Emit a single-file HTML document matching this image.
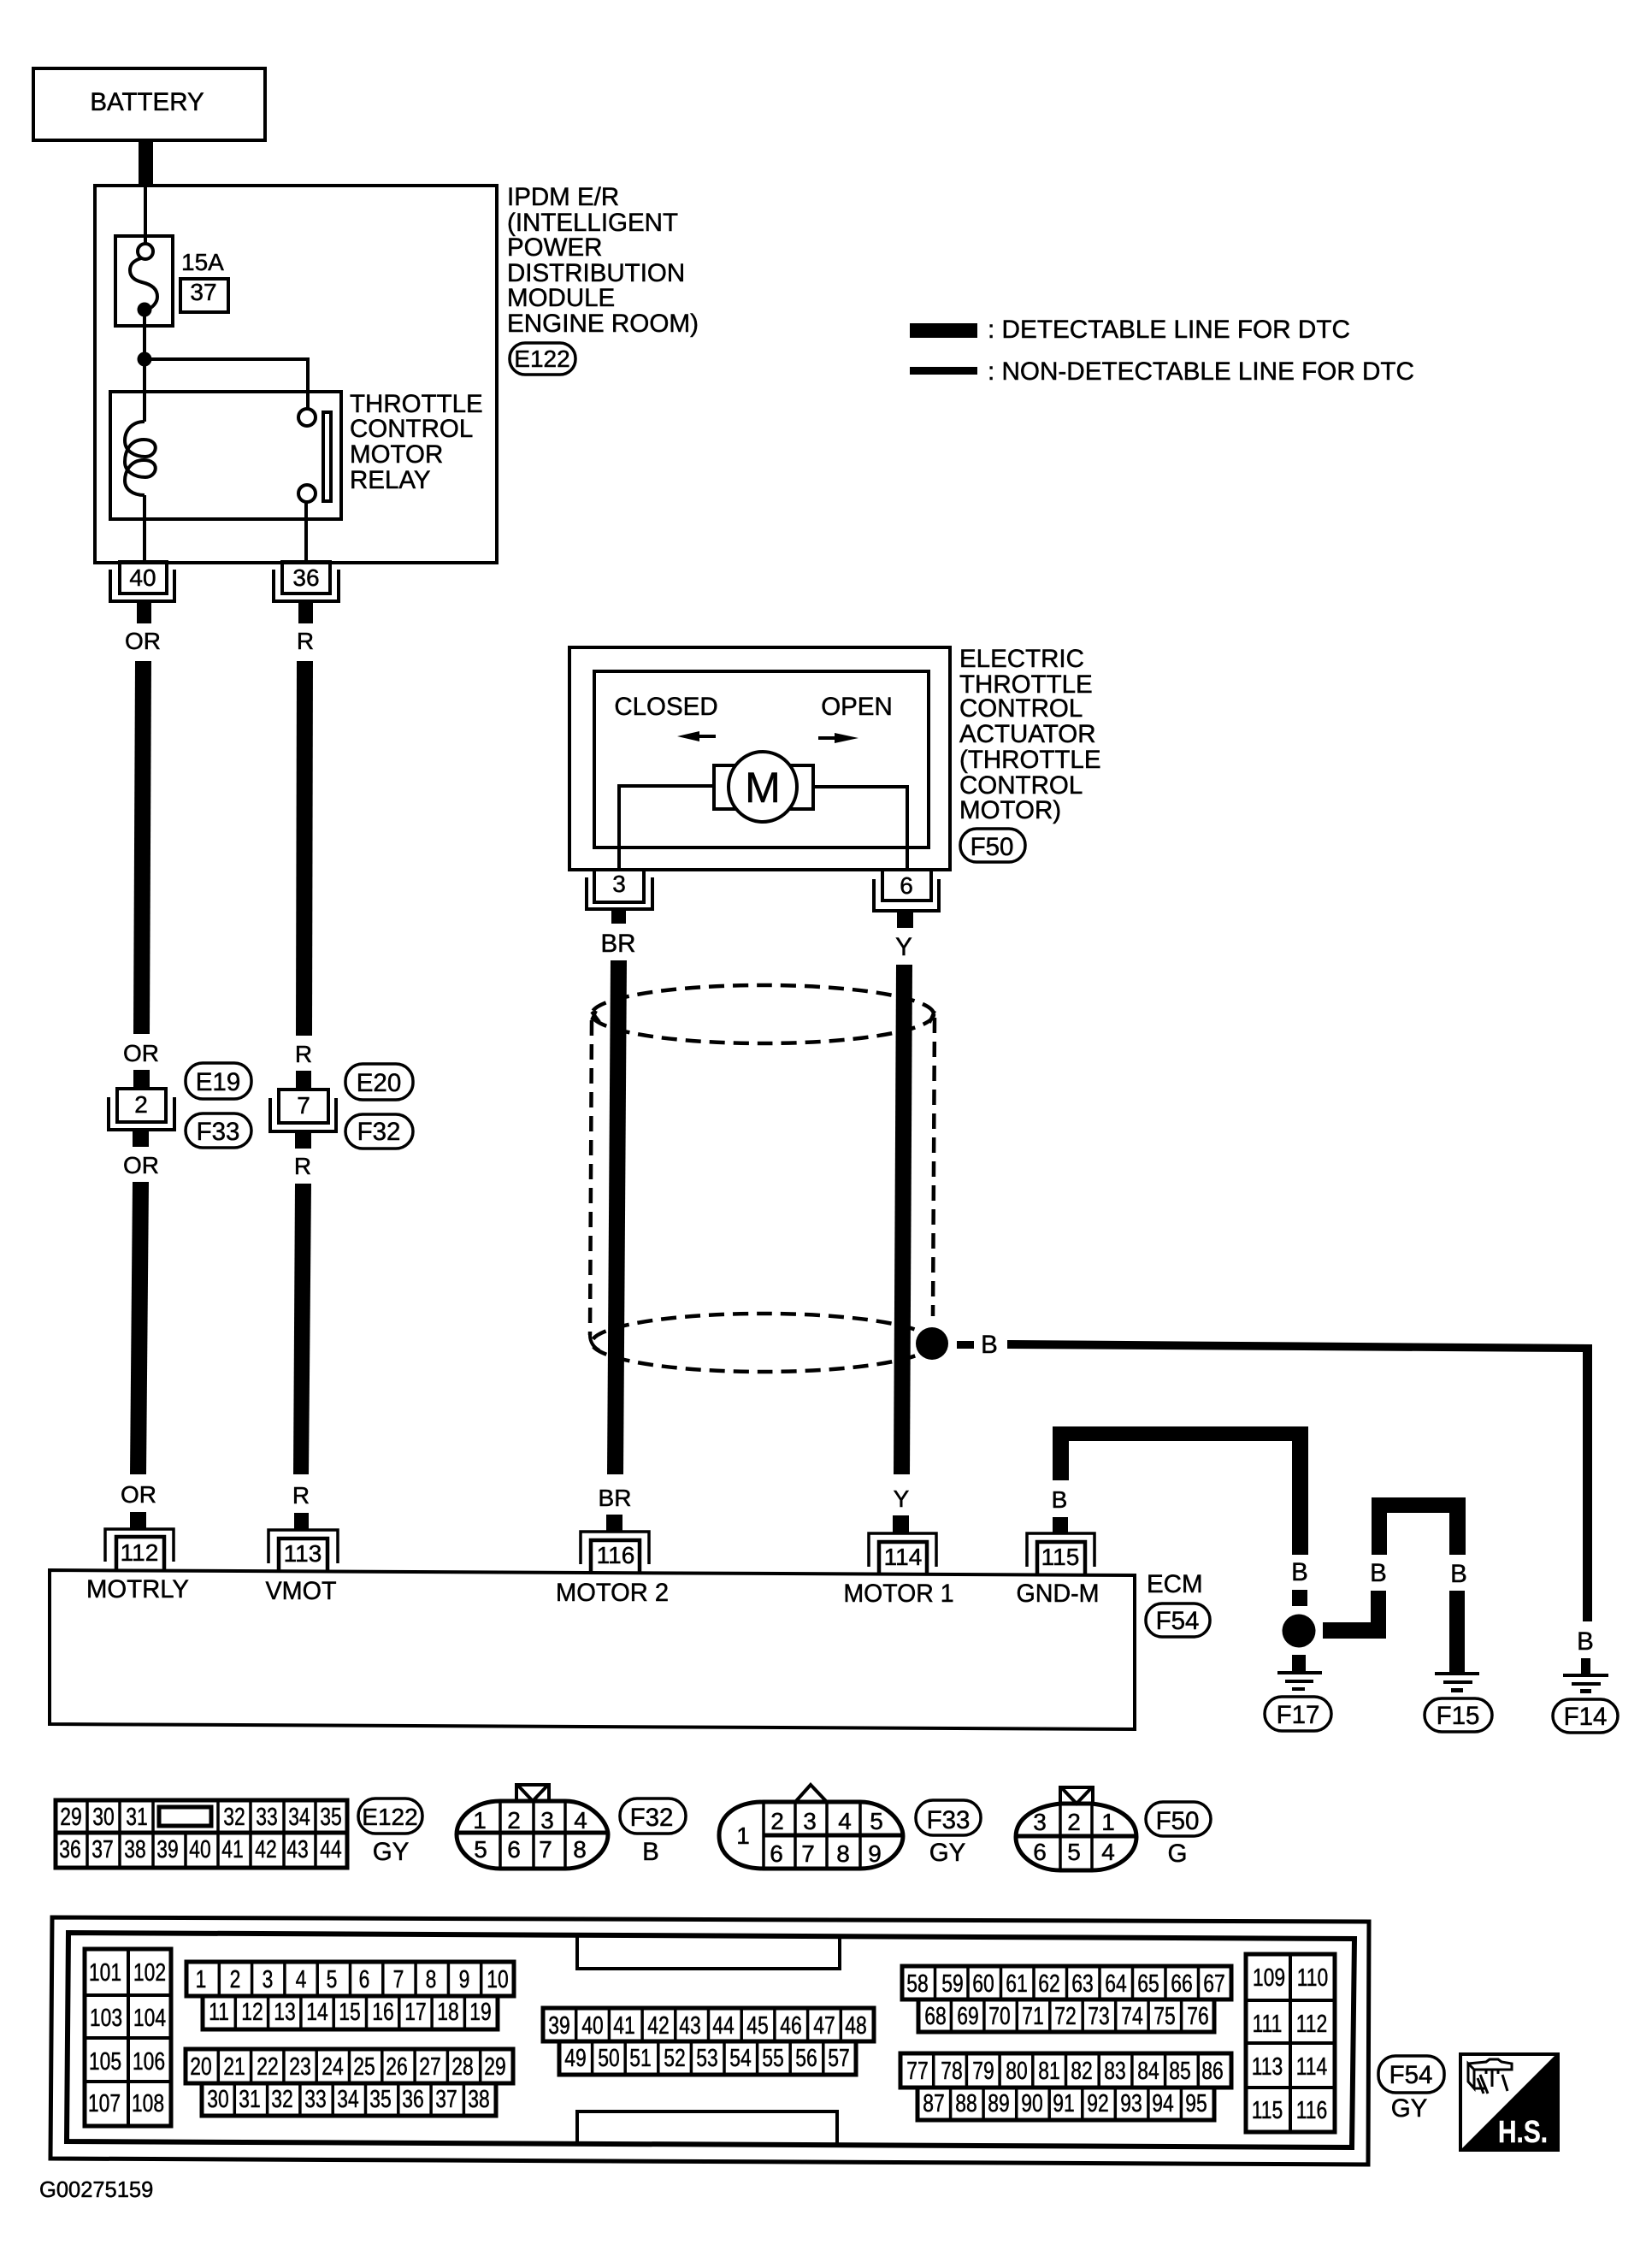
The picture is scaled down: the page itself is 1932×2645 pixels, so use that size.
<!DOCTYPE html>
<html>
<head>
<meta charset="utf-8">
<title>Throttle control motor wiring diagram</title>
<style>
html,body{margin:0;padding:0;background:#fff}
svg{display:block}
text{font-family:"Liberation Sans",sans-serif;font-size:29.5px;fill:#000;text-anchor:middle;stroke:#000;stroke-width:.5px}
.l{text-anchor:start}
.p{font-size:29px;transform-box:fill-box;transform-origin:center;transform:scaleX(.79)}
.s{font-size:28px}
.b{fill:none;stroke:#000;stroke-width:4}
.w{fill:#fff;stroke:#000;stroke-width:4}
.t{fill:none;stroke:#000;stroke-width:3.5}
.c{fill:none;stroke:#000;stroke-width:5}
.d{fill:none;stroke:#000;stroke-width:4.5;stroke-dasharray:18 10}
.pill{fill:#fff;stroke:#000;stroke-width:3.5}
</style>
</head>
<body>
<svg width="1932" height="2645" viewBox="0 0 1932 2645" xmlns="http://www.w3.org/2000/svg">
<rect width="1932" height="2645" fill="#fff"/>

<!-- Battery -->
<rect class="b" x="39" y="80" width="271" height="84"/>
<text x="172" y="129">BATTERY</text>
<rect x="162" y="164" width="17" height="54"/>

<!-- IPDM -->
<rect class="b" x="111" y="217" width="470" height="441"/>
<path class="b" d="M170 217V285M169 362V493M169 420H360V478M169 579V658M358 587V658"/>
<rect class="b" x="135" y="276" width="67" height="105"/>
<circle class="w" cx="170" cy="294" r="9"/>
<path class="b" d="M165 302C155 305 152 310 152 316C152 324 158 328 166 330C178 333 184 338 184 347C184 354 178 360 172 362"/>
<circle cx="169" cy="362" r="8.5"/>
<circle cx="169" cy="420" r="8.5"/>
<rect class="b" x="129" y="458" width="270" height="149"/>
<path class="b" d="M169 493C153 493 146 505 146 515C146 528 158 534 170 534C184 534 188 514 168 514C152 514 146 528 146 540C146 552 158 558 170 558C184 558 188 538 168 538C152 538 146 552 146 562C146 572 155 579 169 579"/>
<circle class="w" cx="359" cy="488" r="10"/>
<circle class="w" cx="359" cy="577" r="10"/>
<rect class="b" x="378" y="482" width="9" height="104"/>
<text class="s l" x="212" y="316">15A</text>
<rect class="b" x="211" y="326" width="56" height="39"/>
<text class="s" x="238" y="351">37</text>
<text class="l" x="409" y="482">THROTTLE</text>
<text class="l" x="409" y="511">CONTROL</text>
<text class="l" x="409" y="541">MOTOR</text>
<text class="l" x="409" y="571">RELAY</text>
<text class="l" x="593" y="240">IPDM E/R</text>
<text class="l" x="593" y="270">(INTELLIGENT</text>
<text class="l" x="593" y="299">POWER</text>
<text class="l" x="593" y="329">DISTRIBUTION</text>
<text class="l" x="593" y="358">MODULE</text>
<text class="l" x="593" y="388" textLength="224" lengthAdjust="spacingAndGlyphs">ENGINE ROOM)</text>
<rect class="pill" x="596" y="401" width="77" height="37" rx="18"/>
<text class="s" x="634" y="429">E122</text>

<!-- Legend -->
<rect x="1064" y="378" width="79" height="17"/>
<rect x="1064" y="429" width="79" height="9"/>
<text class="l" x="1155" y="395" textLength="424" lengthAdjust="spacingAndGlyphs">: DETECTABLE LINE FOR DTC</text>
<text class="l" x="1155" y="444" textLength="499" lengthAdjust="spacingAndGlyphs">: NON-DETECTABLE LINE FOR DTC</text>

<!-- Connectors 40 / 36 -->
<rect class="b" x="140" y="657" width="55" height="37"/>
<path class="b" d="M129 666V703H204V666"/>
<text class="s" x="167" y="685">40</text>
<rect class="b" x="330" y="657" width="56" height="37"/>
<path class="b" d="M320 666V703H396V666"/>
<text class="s" x="358" y="685">36</text>
<rect x="160" y="703" width="17" height="26"/>
<rect x="349" y="703" width="17" height="26"/>
<text class="s" x="167" y="759">OR</text>
<text class="s" x="357" y="759">R</text>

<!-- OR / R left wires -->
<polygon points="158,773 177,773 175,1209 156,1209"/>
<polygon points="347,773 366,773 365,1211 346,1211"/>
<text class="s" x="165" y="1241">OR</text>
<text class="s" x="355" y="1242">R</text>
<rect x="156" y="1251" width="19" height="22"/>
<rect x="346" y="1252" width="18" height="22"/>
<rect class="b" x="137" y="1273" width="57" height="39"/>
<path class="b" d="M127 1283V1321H204V1283"/>
<text class="s" x="165" y="1301">2</text>
<rect class="b" x="326" y="1274" width="58" height="39"/>
<path class="b" d="M316 1284V1323H393V1284"/>
<text class="s" x="355" y="1302">7</text>
<rect x="155" y="1321" width="19" height="20"/>
<rect x="345" y="1323" width="19" height="20"/>
<text class="s" x="165" y="1372">OR</text>
<text class="s" x="354" y="1373">R</text>
<polygon points="155,1382 174,1382 171,1724 152,1724"/>
<polygon points="345,1384 364,1384 361,1724 343,1724"/>
<rect class="pill" x="217" y="1243" width="77" height="42" rx="20"/>
<text x="255" y="1275">E19</text>
<rect class="pill" x="217" y="1302" width="77" height="40" rx="20"/>
<text x="255" y="1333">F33</text>
<rect class="pill" x="404" y="1244" width="79" height="42" rx="20"/>
<text x="443" y="1276">E20</text>
<rect class="pill" x="404" y="1303" width="79" height="40" rx="20"/>
<text x="443" y="1333">F32</text>

<!-- Electric throttle actuator -->
<rect class="b" x="666" y="757" width="445" height="260"/>
<rect class="b" x="695" y="785" width="391" height="206"/>
<text x="779" y="836">CLOSED</text>
<text x="1002" y="836">OPEN</text>
<path d="M792 861L818 855V859H837V863H818V867Z"/>
<path d="M1004 863L976 857V861H957V865H976V869Z"/>
<rect class="b" x="835" y="895" width="116" height="51"/>
<path class="b" d="M834 919H724V1017M953 920H1061V1017"/>
<ellipse cx="892" cy="920" rx="40" ry="41" fill="#fff" stroke="#000" stroke-width="4"/>
<text x="892" y="938" style="font-size:50px">M</text>
<text class="l" x="1122" y="780">ELECTRIC</text>
<text class="l" x="1122" y="810">THROTTLE</text>
<text class="l" x="1122" y="838">CONTROL</text>
<text class="l" x="1122" y="868">ACTUATOR</text>
<text class="l" x="1122" y="898">(THROTTLE</text>
<text class="l" x="1122" y="928">CONTROL</text>
<text class="l" x="1122" y="957">MOTOR)</text>
<rect class="pill" x="1123" y="969" width="76" height="39" rx="19"/>
<text x="1160" y="1000">F50</text>
<rect class="b" x="695" y="1017" width="58" height="38"/>
<path class="b" d="M686 1026V1063H763V1026"/>
<text class="s" x="724" y="1043">3</text>
<rect class="b" x="1032" y="1017" width="57" height="36"/>
<path class="b" d="M1022 1028V1065H1098V1028"/>
<text class="s" x="1060" y="1045">6</text>
<rect x="715" y="1063" width="17" height="17"/>
<rect x="1049" y="1065" width="19" height="20"/>
<text x="723" y="1113">BR</text>
<text x="1057" y="1117">Y</text>

<!-- Shield -->
<ellipse class="d" cx="892" cy="1186" rx="200" ry="34"/>
<ellipse class="d" cx="892" cy="1570" rx="200" ry="34"/>
<path class="d" d="M692 1193L690 1561"/>
<path class="b" d="M690 1561C690 1570 695 1576 701 1579M692 1193L697 1182M692 1183L701 1195M1093 1182L1087 1196"/>
<path class="d" d="M1093 1190L1091 1539"/>
<polygon points="714,1123 733,1123 729,1724 710,1724"/>
<polygon points="1048,1128 1067,1128 1064,1724 1045,1724"/>
<circle cx="1090" cy="1571" r="19"/>
<rect x="1119" y="1568" width="20" height="9"/>
<text x="1157" y="1582">B</text>
<polygon points="1178,1567 1862,1572 1862,1896 1851,1896 1851,1581 1178,1577"/>
<text x="1854" y="1929">B</text>

<!-- ECM stubs -->
<text class="s" x="162" y="1757">OR</text>
<text class="s" x="352" y="1758">R</text>
<text class="s" x="719" y="1761">BR</text>
<text class="s" x="1054" y="1762">Y</text>
<text class="s" x="1239" y="1763">B</text>
<rect x="152" y="1768" width="19" height="19"/>
<rect x="344" y="1769" width="17" height="19"/>
<rect x="709" y="1771" width="19" height="19"/>
<rect x="1044" y="1772" width="19" height="20"/>
<rect x="1231" y="1774" width="18" height="18"/>

<!-- ECM box -->
<polygon class="b" points="58,1836 1327,1842 1327,2022 58,2016"/>
<path class="t" d="M123 1826V1788H203V1826M314 1828V1789H395V1828M679 1829V1791H759V1829M1016 1832V1793H1095V1832M1201 1832V1793H1280V1832"/>
<path class="b" style="stroke-width:4.5" d="M136 1837V1797H192V1837M326 1838V1799H383V1838M691 1840V1801H748V1840M1028 1842V1803H1084V1842M1213 1843V1803H1269V1843"/>
<text class="s" x="163" y="1825">112</text>
<text class="s" x="354" y="1826">113</text>
<text class="s" x="720" y="1828">116</text>
<text class="s" x="1056" y="1830">114</text>
<text class="s" x="1240" y="1830">115</text>
<text x="161" y="1868" textLength="120" lengthAdjust="spacingAndGlyphs">MOTRLY</text>
<text x="352" y="1870" textLength="83" lengthAdjust="spacingAndGlyphs">VMOT</text>
<text x="716" y="1872" textLength="132" lengthAdjust="spacingAndGlyphs">MOTOR 2</text>
<text x="1051" y="1873" textLength="129" lengthAdjust="spacingAndGlyphs">MOTOR 1</text>
<text x="1237" y="1873" textLength="97" lengthAdjust="spacingAndGlyphs">GND-M</text>
<text class="l" x="1341" y="1862">ECM</text>
<rect class="pill" x="1340" y="1875" width="75" height="39" rx="19"/>
<text x="1377" y="1905">F54</text>

<!-- Ground wires -->
<path d="M1231 1731V1668H1530V1818H1511V1685H1250V1731Z"/>
<text x="1520" y="1848">B</text>
<rect x="1511" y="1859" width="18" height="19"/>
<circle cx="1519" cy="1907" r="19.5"/>
<path d="M1547 1897H1603V1860H1621V1916H1547Z"/>
<text x="1612" y="1849">B</text>
<path d="M1604 1818V1751H1714V1818H1695V1769H1622V1818Z"/>
<text x="1706" y="1850">B</text>
<rect x="1695" y="1860" width="18" height="96"/>
<rect x="1511" y="1935" width="16" height="19"/>
<rect x="1494" y="1954" width="52" height="4"/>
<rect x="1503" y="1964" width="33" height="4"/>
<rect x="1511" y="1973" width="15" height="4"/>
<rect x="1678" y="1955" width="52" height="4"/>
<rect x="1688" y="1965" width="34" height="4"/>
<rect x="1697" y="1974" width="14" height="5"/>
<rect x="1849" y="1939" width="11" height="19"/>
<rect x="1828" y="1957" width="53" height="4"/>
<rect x="1838" y="1967" width="34" height="4"/>
<rect x="1848" y="1975" width="13" height="5"/>
<rect class="pill" x="1479" y="1984" width="78" height="40" rx="20"/>
<text x="1518" y="2015">F17</text>
<rect class="pill" x="1666" y="1986" width="79" height="39" rx="20"/>
<text x="1705" y="2016">F15</text>
<rect class="pill" x="1816" y="1987" width="76" height="39" rx="20"/>
<text x="1854" y="2017">F14</text>

<!-- E122 connector view -->
<rect class="c" x="65" y="2105" width="341" height="79"/>
<path class="c" d="M65 2143H406"/>
<path class="t" d="M102 2105V2184M140 2105V2184M179 2105V2184M217 2143V2184M255 2105V2184M293 2105V2184M332 2105V2184M369 2105V2184"/>
<rect class="c" x="186" y="2113" width="61" height="22"/>
<text class="p" x="83" y="2134">29</text><text class="p" x="121" y="2134">30</text><text class="p" x="160" y="2134">31</text>
<text class="p" x="274" y="2134">32</text><text class="p" x="312" y="2134">33</text><text class="p" x="350" y="2134">34</text><text class="p" x="387" y="2134">35</text>
<text class="p" x="82" y="2172">36</text><text class="p" x="120" y="2172">37</text><text class="p" x="158" y="2172">38</text><text class="p" x="196" y="2172">39</text><text class="p" x="234" y="2172">40</text><text class="p" x="272" y="2172">41</text><text class="p" x="311" y="2172">42</text><text class="p" x="348" y="2172">43</text><text class="p" x="387" y="2172">44</text>
<rect class="pill" x="419" y="2103" width="75" height="41" rx="20"/>
<text class="s" x="456" y="2134">E122</text>
<text x="457" y="2175">GY</text>

<!-- F32 -->
<path class="c" d="M585 2106H661C690 2106 711 2130 711 2145C711 2165 690 2185 661 2185H585C555 2185 534 2165 534 2145C534 2125 555 2106 585 2106Z"/>
<path class="c" d="M534 2143H711"/>
<path class="t" d="M585 2106V2185M624 2106V2185M661 2106V2185"/>
<path class="b" d="M604 2106V2087H642V2106M606 2088L623 2106L640 2088"/>
<text class="s" x="561" y="2138">1</text><text class="s" x="601" y="2138">2</text><text class="s" x="640" y="2138">3</text><text class="s" x="679" y="2138">4</text>
<text class="s" x="562" y="2172">5</text><text class="s" x="601" y="2172">6</text><text class="s" x="638" y="2172">7</text><text class="s" x="678" y="2172">8</text>
<rect class="pill" x="725" y="2103" width="77" height="41" rx="20"/>
<text x="762" y="2135">F32</text>
<text x="761" y="2175">B</text>

<!-- F33 -->
<path class="c" d="M893 2107H1006C1036 2107 1056 2130 1056 2147C1056 2165 1036 2185 1006 2185H893C862 2185 841 2170 841 2146C841 2122 862 2107 893 2107Z"/>
<path class="c" d="M893 2146H1056"/>
<path class="t" d="M893 2107V2185M930 2107V2185M967 2107V2185M1006 2107V2185"/>
<path class="b" d="M931 2106L948 2087L966 2106"/>
<text class="s" x="869" y="2156">1</text>
<text class="s" x="909" y="2139">2</text><text class="s" x="947" y="2139">3</text><text class="s" x="988" y="2139">4</text><text class="s" x="1025" y="2139">5</text>
<text class="s" x="908" y="2177">6</text><text class="s" x="945" y="2177">7</text><text class="s" x="986" y="2177">8</text><text class="s" x="1023" y="2177">9</text>
<rect class="pill" x="1071" y="2105" width="76" height="41" rx="20"/>
<text x="1109" y="2138">F33</text>
<text x="1108" y="2176">GY</text>

<!-- F50 -->
<path class="c" d="M1240 2109H1277C1305 2112 1329 2125 1329 2148C1329 2170 1305 2187 1277 2187H1240C1212 2187 1188 2170 1188 2148C1188 2125 1212 2112 1240 2109Z"/>
<path class="c" d="M1188 2147H1329"/>
<path class="t" d="M1240 2109V2187M1277 2109V2187"/>
<path class="b" d="M1240 2109V2090H1278V2109M1242 2091L1259 2109L1276 2091"/>
<text class="s" x="1216" y="2140">3</text><text class="s" x="1256" y="2140">2</text><text class="s" x="1296" y="2140">1</text>
<text class="s" x="1216" y="2175">6</text><text class="s" x="1256" y="2175">5</text><text class="s" x="1296" y="2175">4</text>
<rect class="pill" x="1340" y="2107" width="76" height="40" rx="20"/>
<text x="1377" y="2139">F50</text>
<text x="1377" y="2177">G</text>

<!-- F54 big connector -->
<polygon class="c" points="61,2242 1601,2247 1600,2531 59,2524"/>
<polygon class="c" style="stroke-width:6" points="80,2260 1584,2267 1581,2511 78,2504"/>
<path class="b" d="M675 2262V2302H982V2264M675 2506V2469H979V2509"/>

<!-- 101-108 -->
<path class="c" d="M99 2279H200V2486H99Z"/>
<path class="b" d="M150 2279V2486M99 2333H200M99 2383H200M99 2434H200"/>
<text class="p" x="123" y="2316">101</text><text class="p" x="175" y="2316">102</text>
<text class="p" x="124" y="2369">103</text><text class="p" x="175" y="2369">104</text>
<text class="p" x="123" y="2420">105</text><text class="p" x="174" y="2420">106</text>
<text class="p" x="122" y="2469">107</text><text class="p" x="173" y="2469">108</text>

<!-- 1-19 -->
<path class="c" d="M218 2294H601V2334H218ZM237 2334V2373H582V2334"/>
<path class="t" d="M256.3 2294V2334M294.6 2294V2334M332.9 2294V2334M371.2 2294V2334M409.5 2294V2334M447.8 2294V2334M486.1 2294V2334M524.4 2294V2334M562.7 2294V2334M275.3 2334V2373M313.6 2334V2373M351.9 2334V2373M390.2 2334V2373M428.5 2334V2373M466.8 2334V2373M505.1 2334V2373M543.4 2334V2373"/>
<text class="p" x="235" y="2324">1</text><text class="p" x="275" y="2324">2</text><text class="p" x="313" y="2324">3</text><text class="p" x="352" y="2324">4</text><text class="p" x="388" y="2324">5</text><text class="p" x="426" y="2324">6</text><text class="p" x="466" y="2324">7</text><text class="p" x="504" y="2324">8</text><text class="p" x="543" y="2324">9</text><text class="p" x="582" y="2324">10</text>
<text class="p" x="256" y="2362">11</text><text class="p" x="295" y="2362">12</text><text class="p" x="333" y="2362">13</text><text class="p" x="371" y="2362">14</text><text class="p" x="409" y="2362">15</text><text class="p" x="448" y="2362">16</text><text class="p" x="486" y="2362">17</text><text class="p" x="524" y="2362">18</text><text class="p" x="562" y="2362">19</text>

<!-- 20-38 -->
<path class="c" d="M217 2396H600V2436H217ZM236 2436V2474H580V2436"/>
<path class="t" d="M255.3 2396V2436M293.6 2396V2436M331.9 2396V2436M370.2 2396V2436M408.5 2396V2436M446.8 2396V2436M485.1 2396V2436M523.4 2396V2436M561.7 2396V2436M274.3 2436V2474M312.6 2436V2474M350.9 2436V2474M389.2 2436V2474M427.5 2436V2474M465.8 2436V2474M504.1 2436V2474M542.4 2436V2474"/>
<text class="p" x="235" y="2426">20</text><text class="p" x="274" y="2426">21</text><text class="p" x="313" y="2426">22</text><text class="p" x="351" y="2426">23</text><text class="p" x="389" y="2426">24</text><text class="p" x="426" y="2426">25</text><text class="p" x="464" y="2426">26</text><text class="p" x="503" y="2426">27</text><text class="p" x="541" y="2426">28</text><text class="p" x="579" y="2426">29</text>
<text class="p" x="255" y="2464">30</text><text class="p" x="292" y="2464">31</text><text class="p" x="330" y="2464">32</text><text class="p" x="369" y="2464">33</text><text class="p" x="407" y="2464">34</text><text class="p" x="445" y="2464">35</text><text class="p" x="483" y="2464">36</text><text class="p" x="522" y="2464">37</text><text class="p" x="560" y="2464">38</text>

<!-- 39-57 -->
<path class="c" d="M635 2348H1022V2387H635ZM654 2387V2426H1001V2387"/>
<path class="t" d="M673.7 2348V2387M712.4 2348V2387M751.1 2348V2387M789.8 2348V2387M828.5 2348V2387M867.2 2348V2387M905.9 2348V2387M944.6 2348V2387M983.3 2348V2387M692.6 2387V2426M731.2 2387V2426M769.8 2387V2426M808.4 2387V2426M847 2387V2426M885.6 2387V2426M924.2 2387V2426M962.8 2387V2426"/>
<text class="p" x="654" y="2378">39</text><text class="p" x="693" y="2378">40</text><text class="p" x="730" y="2378">41</text><text class="p" x="770" y="2378">42</text><text class="p" x="807" y="2378">43</text><text class="p" x="846" y="2378">44</text><text class="p" x="886" y="2378">45</text><text class="p" x="925" y="2378">46</text><text class="p" x="964" y="2378">47</text><text class="p" x="1001" y="2378">48</text>
<text class="p" x="673" y="2416">49</text><text class="p" x="712" y="2416">50</text><text class="p" x="749" y="2416">51</text><text class="p" x="789" y="2416">52</text><text class="p" x="827" y="2416">53</text><text class="p" x="866" y="2416">54</text><text class="p" x="904" y="2416">55</text><text class="p" x="943" y="2416">56</text><text class="p" x="981" y="2416">57</text>

<!-- 58-76 -->
<path class="c" d="M1055 2299H1440V2338H1055ZM1074 2338V2376H1420V2338"/>
<path class="t" d="M1093.5 2299V2338M1132 2299V2338M1170.5 2299V2338M1209 2299V2338M1247.5 2299V2338M1286 2299V2338M1324.5 2299V2338M1363 2299V2338M1401.5 2299V2338M1112.4 2338V2376M1150.9 2338V2376M1189.3 2338V2376M1227.8 2338V2376M1266.2 2338V2376M1304.7 2338V2376M1343.1 2338V2376M1381.6 2338V2376"/>
<text class="p" x="1073" y="2329">58</text><text class="p" x="1114" y="2329">59</text><text class="p" x="1150" y="2329">60</text><text class="p" x="1189" y="2329">61</text><text class="p" x="1227" y="2329">62</text><text class="p" x="1266" y="2329">63</text><text class="p" x="1305" y="2329">64</text><text class="p" x="1343" y="2329">65</text><text class="p" x="1382" y="2329">66</text><text class="p" x="1420" y="2329">67</text>
<text class="p" x="1094" y="2367">68</text><text class="p" x="1132" y="2367">69</text><text class="p" x="1169" y="2367">70</text><text class="p" x="1208" y="2367">71</text><text class="p" x="1246" y="2367">72</text><text class="p" x="1285" y="2367">73</text><text class="p" x="1324" y="2367">74</text><text class="p" x="1362" y="2367">75</text><text class="p" x="1401" y="2367">76</text>

<!-- 77-95 -->
<path class="c" d="M1053 2401H1440V2441H1053ZM1073 2441V2479H1420V2441"/>
<path class="t" d="M1091.7 2401V2441M1130.4 2401V2441M1169.1 2401V2441M1207.8 2401V2441M1246.5 2401V2441M1285.2 2401V2441M1323.9 2401V2441M1362.6 2401V2441M1401.3 2401V2441M1111.6 2441V2479M1150.1 2441V2479M1188.7 2441V2479M1227.2 2441V2479M1265.8 2441V2479M1304.3 2441V2479M1342.9 2441V2479M1381.4 2441V2479"/>
<text class="p" x="1073" y="2431">77</text><text class="p" x="1113" y="2431">78</text><text class="p" x="1150" y="2431">79</text><text class="p" x="1189" y="2431">80</text><text class="p" x="1227" y="2431">81</text><text class="p" x="1265" y="2431">82</text><text class="p" x="1304" y="2431">83</text><text class="p" x="1343" y="2431">84</text><text class="p" x="1380" y="2431">85</text><text class="p" x="1418" y="2431">86</text>
<text class="p" x="1092" y="2469">87</text><text class="p" x="1130" y="2469">88</text><text class="p" x="1168" y="2469">89</text><text class="p" x="1207" y="2469">90</text><text class="p" x="1244" y="2469">91</text><text class="p" x="1284" y="2469">92</text><text class="p" x="1323" y="2469">93</text><text class="p" x="1360" y="2469">94</text><text class="p" x="1399" y="2469">95</text>

<!-- 109-116 -->
<path class="c" d="M1457 2285H1561V2493H1457Z"/>
<path class="b" d="M1509 2285V2493M1457 2339H1561M1457 2389H1561M1457 2441H1561"/>
<text class="p" x="1484" y="2322">109</text><text class="p" x="1535" y="2322">110</text>
<text class="p" x="1482" y="2376">111</text><text class="p" x="1534" y="2376">112</text>
<text class="p" x="1482" y="2426">113</text><text class="p" x="1534" y="2426">114</text>
<text class="p" x="1482" y="2477">115</text><text class="p" x="1534" y="2477">116</text>

<rect class="pill" x="1612" y="2404" width="77" height="43" rx="20"/>
<text x="1650" y="2436">F54</text>
<text x="1648" y="2475">GY</text>

<!-- H.S. badge -->
<rect x="1708" y="2402" width="114" height="112" fill="#fff" stroke="#000" stroke-width="4"/>
<polygon points="1822,2400 1822,2514 1708,2514"/>
<path d="M1717 2413L1738 2411L1742 2408H1752L1756 2411L1768 2413V2420H1724L1717 2413V2434L1724 2442V2420M1724 2442H1738M1745 2420V2440M1738 2420V2425M1752 2420V2425M1731 2426L1740 2448M1728 2430L1735 2448M1757 2426L1763 2445" fill="none" stroke="#000" stroke-width="3"/>
<text x="1781" y="2505" style="font-size:36px;font-weight:bold;fill:#fff;stroke:#fff" textLength="58" lengthAdjust="spacingAndGlyphs">H.S.</text>

<text class="l" x="46" y="2569" style="font-size:25.5px">G00275159</text>
</svg>
</body>
</html>
